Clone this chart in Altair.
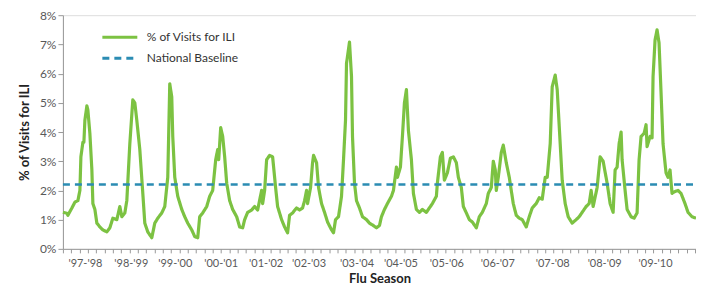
import json
import altair as alt
import pandas as pd

# Weekly position index (along the time axis) and % of visits for ILI
week = [0, 4, 5, 9, 12, 15, 17, 18, 20, 21, 22, 24, 25, 27, 29, 30, 32, 34, 37, 40, 44, 47, 50, 54, 57, 59, 62, 64,
        67, 70, 72, 74, 77, 80, 82, 85, 89, 92, 95, 99, 102, 105, 107, 109, 110, 112, 115, 119, 122, 125, 129, 132,
        135, 137, 140, 144, 147, 150, 153, 155, 156, 158, 160, 162, 164, 167, 170, 174, 177, 180, 182, 185, 189,
        192, 195, 199, 200, 202, 204, 207, 210, 213, 215, 219, 222, 225, 227, 230, 234, 237, 240, 242, 244, 245,
        248, 250, 251, 254, 256, 259, 262, 265, 269, 271, 273, 276, 279, 281, 283, 284, 287, 289, 290, 292, 294,
        297, 300, 304, 307, 310, 314, 317, 319, 322, 325, 329, 331, 334, 335, 338, 340, 342, 344, 346, 349, 351,
        354, 357, 360, 364, 367, 370, 374, 375, 378, 380, 382, 385, 388, 391, 394, 396, 399, 401, 404, 407, 410,
        414, 417, 420, 424, 426, 429, 431, 433, 434, 436, 439, 441, 444, 447, 449, 451, 454, 457, 460, 464, 467,
        470, 474, 477, 480, 483, 485, 488, 490, 493, 495, 498, 500, 503, 506, 510, 514, 517, 520, 524, 527, 529,
        531, 535, 538, 541, 545, 548, 551, 553, 555, 557, 559, 560, 563, 565, 569, 572, 575, 577, 579, 582, 584,
        585, 588, 590, 591, 593, 595, 597, 599, 601, 604, 606, 608, 610, 612, 616, 619, 623, 626, 630, 634]
pct = [1.25, 1.22, 1.15, 1.4, 1.6, 1.65, 2.0, 3.15, 3.65, 3.65, 4.4, 4.9, 4.75, 3.95, 2.7, 1.55, 1.35, 0.88, 0.75,
       0.65, 0.58, 0.72, 1.05, 1.0, 1.45, 1.1, 1.23, 1.65, 3.6, 5.1, 5.0, 4.4, 3.4, 1.9, 0.88, 0.58, 0.38, 0.88,
       1.05, 1.23, 1.45, 2.45, 5.65, 5.2, 3.85, 2.45, 1.8, 1.35, 1.1, 0.88, 0.65, 0.42, 0.38, 1.1, 1.23, 1.45, 1.8,
       2.0, 3.05, 3.4, 3.05, 4.15, 3.85, 3.15, 2.25, 1.65, 1.35, 1.1, 0.75, 0.72, 1.0, 1.25, 1.33, 1.45, 1.33, 2.0,
       1.55, 2.0, 3.05, 3.2, 3.15, 2.1, 1.45, 1.0, 0.75, 0.55, 1.15, 1.23, 1.4, 1.33, 1.4, 1.65, 2.0, 1.55, 2.1,
       2.95, 3.2, 2.95, 2.1, 1.55, 1.25, 0.92, 0.65, 0.55, 1.0, 1.1, 1.8, 3.05, 4.4, 6.35, 7.08, 5.9, 3.85, 2.25,
       1.65, 1.4, 1.1, 1.0, 0.88, 0.82, 0.72, 0.8, 1.1, 1.35, 1.55, 1.8, 2.0, 2.8, 2.45, 2.8, 3.85, 5.0, 5.45,
       4.05, 3.05, 1.9, 1.35, 1.25, 1.35, 1.25, 1.4, 1.55, 1.8, 2.25, 3.15, 3.3, 2.35, 2.6, 3.1, 3.15, 2.95, 2.45,
       2.1, 1.45, 1.23, 1.0, 0.92, 0.72, 1.1, 1.25, 1.55, 1.9, 2.1, 3.0, 2.7, 2.0, 2.45, 3.3, 3.55, 2.95, 2.45,
       2.0, 1.55, 1.15, 1.05, 1.0, 0.75, 1.1, 1.4, 1.55, 1.75, 1.7, 2.45, 2.45, 3.6, 5.55, 5.95, 5.45, 3.6, 2.35,
       1.55, 1.1, 0.88, 1.0, 1.1, 1.25, 1.45, 1.55, 2.0, 1.45, 2.1, 3.15, 3.0, 2.25, 1.55, 1.25, 2.7, 2.8, 3.6,
       4.0, 3.05, 2.0, 1.35, 1.1, 1.05, 1.23, 3.05, 3.85, 3.95, 4.25, 3.5, 3.85, 3.8, 5.9, 7.15, 7.5, 7.05, 5.35,
       3.6, 2.6, 2.45, 2.7, 1.9, 1.95, 2.0, 1.9, 1.55, 1.25, 1.1, 1.05]

baseline_value = 2.2
season_labels = ["'97-'98", "'98-'99", "'99-'00", "'00-'01", "'01-'02", "'02-'03", "'03-'04",
                 "'04-'05", "'05-'06", "'06-'07", "'07-'08", "'08-'09", "'09-'10"]
season_pos = [22, 68, 112, 158, 203, 246, 294, 338, 384, 435, 490, 542, 593]
minor_ticks = [round(i * 8.33, 2) for i in range(77)]
y_ticks = [0, 1, 2, 3, 4, 5, 6, 7, 8]

ILI = "% of Visits for ILI"
BASE = "National Baseline"

ili_df = pd.DataFrame({"week": week, "pct": pct, "series": ILI})
base_df = pd.DataFrame({"week": [week[0], week[-1]], "pct": [baseline_value, baseline_value], "series": BASE})

GREEN = "#7CC242"
BLUE = "#2B8CB3"
FONT = "Lato"


def make_legend():
    return alt.Legend(title=None, orient="none", legendX=38, legendY=14,
                      symbolType="stroke", symbolSize=1225, symbolStrokeWidth=3, clipHeight=16,
                      labelFontSize=12, labelColor="#333333", labelFont=FONT,
                      rowPadding=5, labelOffset=8, padding=0)


def make_yaxis():
    return alt.Axis(values=y_ticks, tickCount=9, labelExpr="datum.value + '%'", title="% of Visits for ILI",
                    grid=False, tickSize=5, tickColor="#999999", domainColor="#999999",
                    labelOverlap=False, labelFontSize=12, labelColor="#595959", labelFont=FONT,
                    labelPadding=2, titleFontSize=13, titleFont=FONT, titleFontWeight="bold",
                    titleColor="#222222", titlePadding=8)


xscale = alt.Scale(domain=[0, 634], nice=False, zero=False)
yscale = alt.Scale(domain=[0, 8], nice=False)
color = alt.Color("series:N", scale=alt.Scale(domain=[ILI, BASE], range=[GREEN, BLUE]), legend=make_legend())
dash = alt.StrokeDash("series:N", scale=alt.Scale(domain=[ILI, BASE], range=[[1, 0], [7, 5]]),
                      legend=make_legend())

label_expr = "{}[indexof({}, datum.value)]".format(json.dumps(season_labels), json.dumps(season_pos))

ili = alt.Chart(ili_df).mark_line(strokeWidth=3.2, strokeJoin="round").encode(
    x=alt.X("week:Q", scale=xscale,
            axis=alt.Axis(orient="bottom", values=minor_ticks, labels=False, title=None, grid=False,
                          tickSize=4, tickColor="#999999", domainColor="#999999", ticks=True)),
    y=alt.Y("pct:Q", scale=yscale, axis=make_yaxis()),
    color=color,
    strokeDash=dash,
)

base = alt.Chart(base_df).mark_line(strokeWidth=2.5).encode(
    x=alt.X("week:Q", scale=xscale,
            axis=alt.Axis(orient="bottom", values=season_pos, labelExpr=label_expr, domain=False,
                          ticks=False, grid=False, labelPadding=9, labelFontSize=11, labelOverlap=False,
                          labelColor="#595959", labelFont=FONT, title="Flu Season", titleFontSize=13,
                          titleFont=FONT, titleFontWeight="bold", titleColor="#222222", titlePadding=4)),
    y=alt.Y("pct:Q", scale=yscale, axis=make_yaxis()),
    color=color,
    strokeDash=dash,
)

chart = alt.layer(ili, base).resolve_axis(x="independent").properties(
    width=634, height=234,
    autosize=alt.AutoSizeParams(type="none"),
    padding={"left": 55, "top": 7, "right": 0, "bottom": 36},
).configure_view(stroke=None).configure(background="white")

chart.save("out.html", embed_options={"renderer": "svg", "actions": False})
